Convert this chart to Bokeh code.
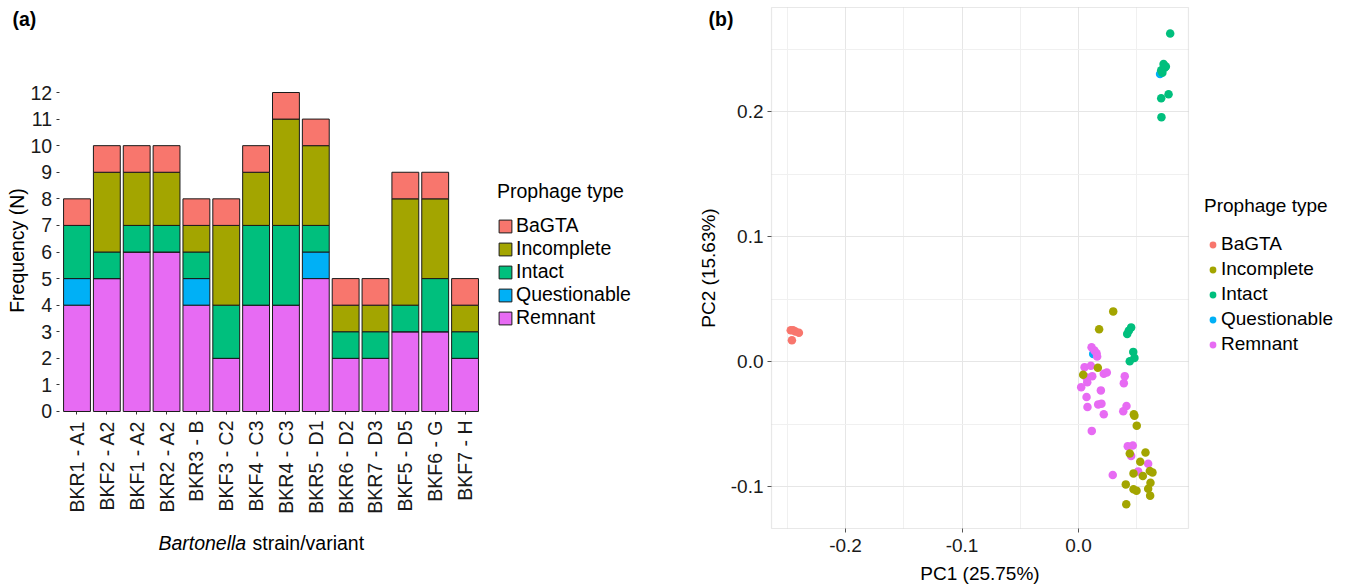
import math
from bokeh.plotting import figure
from bokeh.models import (ColumnDataSource, Legend, LegendItem, Label, Range1d, Grid,
                          FixedTicker, SingleIntervalTicker, PrintfTickFormatter, BoxAnnotation)
from bokeh.layouts import row
from bokeh.embed import file_html
from bokeh.resources import INLINE

FONT = "Liberation Sans"

# ---------------- data: panel (a) ----------------
strains = ["BKR1 - A1", "BKF2 - A2", "BKF1 - A2", "BKR2 - A2", "BKR3 - B", "BKF3 - C2",
           "BKF4 - C3", "BKR4 - C3", "BKR5 - D1", "BKR6 - D2", "BKR7 - D3", "BKF5 - D5",
           "BKF6 - G", "BKF7 - H"]
remnant      = [4, 5, 6, 6, 4, 2, 4, 4, 5, 2, 2, 3, 3, 2]
questionable = [1, 0, 0, 0, 1, 0, 0, 0, 1, 0, 0, 0, 0, 0]
intact       = [2, 1, 1, 1, 1, 2, 3, 3, 1, 1, 1, 1, 2, 1]
incomplete   = [0, 3, 2, 2, 1, 3, 2, 4, 3, 1, 1, 4, 3, 1]
bagta        = [1, 1, 1, 1, 1, 1, 1, 1, 1, 1, 1, 1, 1, 1]
freq_ticks   = list(range(0, 13))

types = ["BaGTA", "Incomplete", "Intact", "Questionable", "Remnant"]
colors = {"BaGTA": "#F8766D", "Incomplete": "#A3A500", "Intact": "#00BF7D",
          "Questionable": "#00B0F6", "Remnant": "#E76BF3"}

# ---------------- data: panel (b) ----------------
bagta_pc1 = [-0.247, -0.245, -0.243, -0.240, -0.246]
bagta_pc2 = [0.025, 0.025, 0.024, 0.023, 0.017]

quest_pc1 = [0.070, 0.0126]
quest_pc2 = [0.230, 0.0061]

intact_pc1 = [0.0787, 0.073, 0.075, 0.071, 0.074, 0.072, 0.0773, 0.071, 0.0712,
              0.0452, 0.0432, 0.0418, 0.047, 0.048, 0.044]
intact_pc2 = [0.2624, 0.238, 0.236, 0.233, 0.235, 0.231, 0.2138, 0.2106, 0.1955,
              0.0273, 0.0247, 0.0221, 0.0077, 0.0029, 0.0002]

incomplete_pc1 = [0.0298, 0.0177, 0.0166, 0.004, 0.0475, 0.048, 0.050, 0.0575, 0.044,
                  0.053, 0.0472, 0.0552, 0.0612, 0.0635, 0.0618, 0.0598, 0.0406,
                  0.0472, 0.0498, 0.0615, 0.041]
incomplete_pc2 = [0.0401, 0.0258, -0.0050, -0.0106, -0.0422, -0.0433, -0.0513, -0.0728,
                  -0.0736, -0.0802, -0.0895, -0.0916, -0.0876, -0.0887, -0.097, -0.1018,
                  -0.0983, -0.1022, -0.1033, -0.1073, -0.1142]

remnant_pc1 = [0.0112, 0.0137, 0.0155, 0.016, 0.0052, 0.0106, 0.0066, 0.0118, 0.0075,
               0.0023, 0.0217, 0.0243, 0.0397, 0.0389, 0.0192, 0.0069, 0.0077, 0.0169,
               0.0197, 0.0217, 0.0412, 0.0384, 0.0114, 0.0423, 0.0466, 0.0452, 0.0598,
               0.0512, 0.0294]
remnant_pc2 = [0.0114, 0.0088, 0.0066, 0.004, -0.0045, -0.0034, -0.0125, -0.0117, -0.0165,
               -0.0205, -0.0098, -0.0088, -0.0117, -0.0173, -0.0231, -0.0284, -0.0364,
               -0.0343, -0.0337, -0.0422, -0.0356, -0.0398, -0.0555, -0.0677, -0.0672,
               -0.0755, -0.0818, -0.0879, -0.0908]

# panel (b) plotting-box limits (PC1 / PC2)
pc1_lim = (-0.2635, 0.0944)
pc2_lim = (-0.1336, 0.2832)


def bare(p):
    p.min_border = 0
    p.min_border_left = p.min_border_right = 0
    p.min_border_top = p.min_border_bottom = 0
    p.outline_line_color = None
    p.background_fill_color = "white"
    p.border_fill_color = "white"


# ================= panel (a) =================
xs = list(range(1, len(strains) + 1))
src = ColumnDataSource(dict(x=xs, Remnant=remnant, Questionable=questionable,
                            Intact=intact, Incomplete=incomplete, BaGTA=bagta))

pa = figure(width=690, height=585, output_backend="svg", toolbar_location=None,
            x_range=Range1d(-1.5628, 21.553), y_range=Range1d(-6.5456, 15.461))
bare(pa)
pa.xgrid.visible = False
pa.ygrid.visible = False

stack_order = ["Remnant", "Questionable", "Intact", "Incomplete", "BaGTA"]
rends = pa.vbar_stack(stack_order, x="x", width=0.9, source=src,
                      color=[colors[t] for t in stack_order],
                      line_color="#1a1a1a", line_width=1)
rmap = dict(zip(stack_order, rends))

xa = pa.xaxis[0]
ya = pa.yaxis[0]
xa.fixed_location = 0
xa.bounds = (0.4, len(strains) + 0.6)
xa.ticker = FixedTicker(ticks=xs)
xa.major_label_overrides = {i: s for i, s in zip(xs, strains)}
xa.major_label_orientation = math.pi / 2
ya.fixed_location = 0.4
ya.bounds = (0, 12.11)
ya.ticker = FixedTicker(ticks=freq_ticks)
for ax in (xa, ya):
    ax.axis_line_color = None
    ax.major_tick_line_color = "#333333"
    ax.major_tick_out = 3
    ax.major_tick_in = 0
    ax.minor_tick_line_color = None
    ax.major_label_text_font = FONT
    ax.major_label_text_font_size = "19.5px"
    ax.major_label_text_color = "#1a1a1a"
    ax.major_label_standoff = 4
xa.major_label_standoff = 6
ya.axis_label = "Frequency (N)"
ya.axis_label_text_font = FONT
ya.axis_label_text_font_style = "normal"
ya.axis_label_text_font_size = "19.5px"
ya.axis_label_text_color = "#000000"
ya.axis_label_standoff = 0

pa.add_layout(Label(x=6.668, y=-4.93, text="Bartonella", text_font=FONT,
                    text_font_style="italic", text_font_size="19.5px",
                    text_align="right", text_baseline="alphabetic", text_color="#000000"))
pa.add_layout(Label(x=6.879, y=-4.93, text="strain/variant", text_font=FONT,
                    text_font_size="19.5px", text_align="left", text_baseline="alphabetic",
                    text_color="#000000"))
pa.add_layout(Label(x=-1.161, y=14.754, text="(a)", text_font=FONT, text_font_style="bold",
                    text_font_size="19.5px", text_align="left", text_baseline="middle",
                    text_color="#000000"))

leg_a = Legend(items=[LegendItem(label=t, renderers=[rmap[t]]) for t in types],
               location=(497, 256), title="Prophage type",
               title_text_font=FONT, title_text_font_size="19.5px",
               title_text_font_style="normal", title_standoff=11,
               label_text_font=FONT, label_text_font_size="19.5px",
               label_text_color="#000000", title_text_color="#000000",
               glyph_width=16, glyph_height=16, label_height=16, spacing=0,
               label_standoff=3, padding=0, margin=0,
               border_line_color=None, background_fill_alpha=0)
pa.add_layout(leg_a, "center")

# ================= panel (b) =================
pb = figure(width=645, height=585, output_backend="svg", toolbar_location=None,
            x_range=Range1d(-0.33305, 0.22060), y_range=Range1d(-0.1792, 0.2888))
bare(pb)

tx = SingleIntervalTicker(interval=0.1, num_minor_ticks=2)
ty = SingleIntervalTicker(interval=0.1, num_minor_ticks=2)
xb = pb.xaxis[0]
yb = pb.yaxis[0]
xb.ticker = tx
yb.ticker = ty
xb.fixed_location = pc2_lim[0]
xb.bounds = pc1_lim
yb.fixed_location = pc1_lim[0]
yb.bounds = pc2_lim

has_cross = "cross_bounds" in Grid.properties()
gx = pb.xgrid[0]
gy = pb.ygrid[0]
gx.ticker = tx
gy.ticker = ty
gx.bounds = pc1_lim
gy.bounds = pc2_lim
if has_cross:
    gx.cross_bounds = pc2_lim
    gy.cross_bounds = pc1_lim
for g in (gx, gy):
    g.grid_line_color = "#e6e6e6"
    g.grid_line_width = 1
    g.minor_grid_line_color = "#f0f0f0"
    g.minor_grid_line_width = 1
if not has_cross:
    gx.visible = False
    gy.visible = False

for ax in (xb, yb):
    ax.axis_line_color = None
    ax.major_tick_line_color = "#555555"
    ax.major_tick_out = 4
    ax.major_tick_in = 0
    ax.minor_tick_line_color = None
    ax.major_label_text_font = FONT
    ax.major_label_text_font_size = "19px"
    ax.major_label_text_color = "#1a1a1a"
    ax.formatter = PrintfTickFormatter(format="%.1f")
    ax.axis_label_text_font = FONT
    ax.axis_label_text_font_style = "normal"
    ax.axis_label_text_font_size = "19px"
    ax.axis_label_text_color = "#000000"
xb.major_label_standoff = 6
xb.axis_label_standoff = 8
yb.major_label_standoff = 4
yb.axis_label_standoff = 9
xb.axis_label = "PC1 (25.75%)"
yb.axis_label = "PC2 (15.63%)"

pb.add_layout(BoxAnnotation(left=pc1_lim[0], right=pc1_lim[1], bottom=pc2_lim[0],
                            top=pc2_lim[1], fill_alpha=0, fill_color=None,
                            line_color="#b3b3b3", line_width=1.2, level="underlay"))

series_b = [("Questionable", quest_pc1, quest_pc2),
            ("BaGTA", bagta_pc1, bagta_pc2),
            ("Remnant", remnant_pc1, remnant_pc2),
            ("Incomplete", incomplete_pc1, incomplete_pc2),
            ("Intact", intact_pc1, intact_pc2)]
srend = {}
for name, px, py in series_b:
    srend[name] = pb.scatter(px, py, size=8.5, color=colors[name], line_color=None)

pb.add_layout(Label(x=-0.3176, y=0.274, text="(b)", text_font=FONT, text_font_style="bold",
                    text_font_size="19.5px", text_align="left", text_baseline="middle",
                    text_color="#000000"))

leg_b = Legend(items=[LegendItem(label=t, renderers=[srend[t]]) for t in types],
               location=(514, 230), title="Prophage type",
               title_text_font=FONT, title_text_font_size="19px",
               title_text_font_style="normal", title_standoff=16,
               label_text_font=FONT, label_text_font_size="19px",
               label_text_color="#000000", title_text_color="#000000",
               glyph_width=17, glyph_height=17, label_height=17, spacing=3,
               label_standoff=0, padding=0, margin=0,
               border_line_color=None, background_fill_alpha=0)
pb.add_layout(leg_b, "center")

layout = row(pa, pb)
open("out.html", "w").write(file_html(layout, INLINE))
